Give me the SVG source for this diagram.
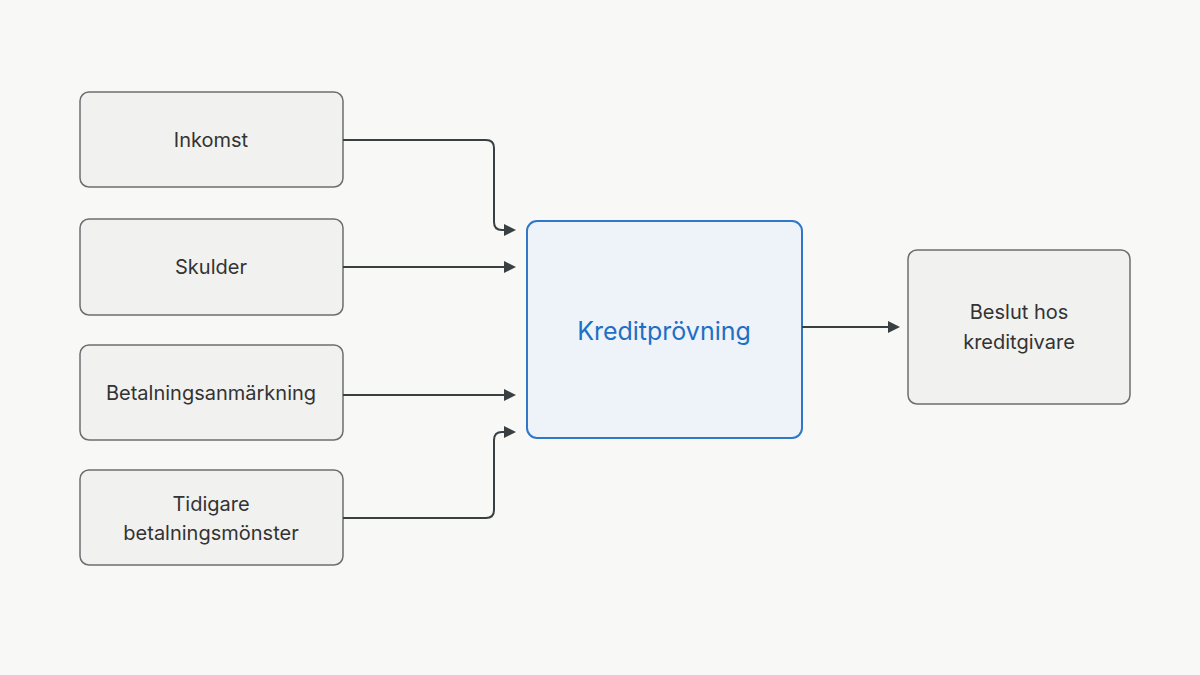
<svg xmlns="http://www.w3.org/2000/svg" width="1200" height="675" viewBox="0 0 1200 675">
<style>
.n{fill:#f1f1ef;stroke:#6b6e70;stroke-width:1.5}
.t{font-family:Inter,"Liberation Sans",sans-serif;font-size:20px;fill:#333;text-anchor:middle}
.c{fill:none;stroke:#3a3f42;stroke-width:2}
</style>
<defs><marker id="a" markerWidth="12" markerHeight="12" refX="10" refY="6" orient="auto" markerUnits="userSpaceOnUse"><path d="M0,0 L12,6 L0,12 Z" fill="#3a3f42"/></marker></defs>
<rect width="1200" height="675" fill="#f8f8f7"/>
<g id="inkomst"><rect class="n" x="80" y="92" width="263" height="95" rx="9"/><text class="t" x="211" y="147">Inkomst</text></g>
<g id="skulder"><rect class="n" x="80" y="219" width="263" height="96" rx="9"/><text class="t" x="211" y="274">Skulder</text></g>
<g id="betalningsanmarkning"><rect class="n" x="80" y="345" width="263" height="95" rx="9"/><text class="t" x="211" y="400">Betalningsanmärkning</text></g>
<g id="tidigare"><rect class="n" x="80" y="470" width="263" height="95" rx="9"/><text class="t" x="211" y="511">Tidigare</text><text class="t" x="211" y="540">betalningsmönster</text></g>
<g id="kreditprovning"><rect x="527" y="221" width="275" height="217" rx="10" fill="#eef3f9" stroke="#2f78c8" stroke-width="2"/><text x="664" y="340" font-family="Inter,'Liberation Sans',sans-serif" font-size="25" fill="#1f6fc4" text-anchor="middle">Kreditprövning</text></g>
<g id="beslut"><rect class="n" x="908" y="250" width="222" height="154" rx="9"/><text class="t" x="1019" y="319">Beslut hos</text><text class="t" x="1019" y="349">kreditgivare</text></g>
<g id="connectors">
<path class="c" d="M343,140 H486 Q494,140 494,148 V222 Q494,230 502,230 H514" marker-end="url(#a)"/>
<path class="c" d="M343,267 H514" marker-end="url(#a)"/>
<path class="c" d="M343,395 H514" marker-end="url(#a)"/>
<path class="c" d="M343,518 H486 Q494,518 494,510 V440 Q494,432 502,432 H514" marker-end="url(#a)"/>
<path class="c" d="M802,327 H898" marker-end="url(#a)"/>
</g>
</svg>
